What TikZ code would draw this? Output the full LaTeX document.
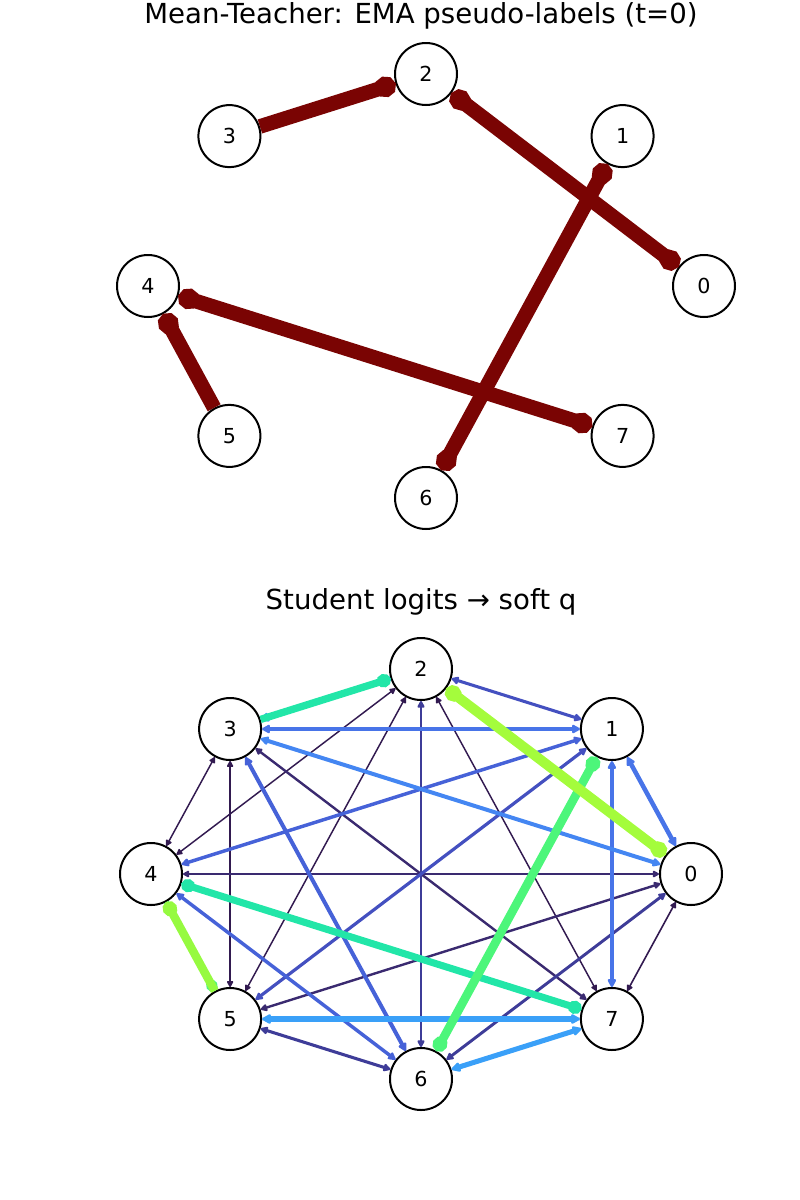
\documentclass[tikz,border=0pt]{standalone}
\usepackage{fontspec}
\setmainfont{DejaVu Sans}
\usetikzlibrary{arrows.meta}

\definecolor{emared}{RGB}{122,4,3}
\definecolor{qpurple}{RGB}{50,26,80}
\definecolor{qdeep}{RGB}{58,42,112}
\definecolor{qindigo}{RGB}{62,60,152}
\definecolor{qslate}{RGB}{68,80,192}
\definecolor{qblue}{RGB}{70,98,216}
\definecolor{qroyal}{RGB}{72,116,232}
\definecolor{qsky}{RGB}{68,134,242}
\definecolor{qazure}{RGB}{58,160,248}
\definecolor{qteal}{RGB}{34,230,168}
\definecolor{qgreen}{RGB}{76,246,122}
\definecolor{qlime}{RGB}{164,252,60}
\definecolor{qchart}{RGB}{150,250,64}

\tikzset{
  vertex/.style={circle, draw, line width=1.5pt, fill=white, minimum size=46.5pt, inner sep=0pt, font=\fontsize{15.5}{18}\selectfont},
  head/.tip={Triangle[round, length=4pt 1, width=4pt 1, line width=0pt 1]},
  dot/.tip={Circle[length=5pt 1, width=4.5pt 1]},
  pseudo/.style={draw=emared, line width=11pt},
  qedge/.style 2 args={draw={#1}, line width=#2, -head},
  qpair/.style 2 args={draw={#1}, line width=#2, head-head},
  qbold/.style 2 args={draw={#1}, line width=#2, -dot},
  qboldpair/.style 2 args={draw={#1}, line width=#2, dot-dot},
  caption/.style={anchor=base, font=\fontsize{20.7}{25}\selectfont},
}

\begin{document}
\begin{tikzpicture}[x=0.75pt,y=0.75pt,yscale=-1,xscale=1]
\useasboundingbox (0,0) rectangle (800,1200);

% Text Node
\node [caption] (ttl) at (421,23.3) {Mean-Teacher: EMA pseudo-labels (t=0)};
% Text Node
\node [caption] (stl) at (421,609) {Student logits → soft q};

%Teacher nodes
\node [vertex] (t0) at (704,286) {0};
\node [vertex] (t1) at (622.6,136.1) {1};
\node [vertex] (t2) at (426,74) {2};
\node [vertex] (t3) at (229.4,136.1) {3};
\node [vertex] (t4) at (148,286) {4};
\node [vertex] (t5) at (229.4,435.9) {5};
\node [vertex] (t6) at (426,498) {6};
\node [vertex] (t7) at (622.6,435.9) {7};

%Pseudo-label edges
\draw [pseudo, -dot] (t3) -- (t2);
\draw [pseudo, -dot] (t5) -- (t4);
\draw [pseudo, dot-dot] (t2) -- (t0);
\draw [pseudo, dot-dot] (t1) -- (t6);
\draw [pseudo, dot-dot] (t4) -- (t7);

%Student nodes
\node [vertex] (s0) at (691,874) {0};
\node [vertex] (s1) at (611.9,729) {1};
\node [vertex] (s2) at (421,669) {2};
\node [vertex] (s3) at (230.1,729) {3};
\node [vertex] (s4) at (151,874) {4};
\node [vertex] (s5) at (230.1,1019) {5};
\node [vertex] (s6) at (421,1079) {6};
\node [vertex] (s7) at (611.9,1019) {7};

%Soft q edges, weakest first
\draw [qpair={qpurple}{1.1pt}] (s2) -- (s4);
\draw [qpair={qpurple}{1.1pt}] (s2) -- (s5);
\draw [qpair={qpurple}{1.1pt}] (s2) -- (s7);
\draw [qpair={qpurple}{1.1pt}] (s3) -- (s4);
\draw [qpair={qpurple}{1.2pt}] (s3) -- (s5);
\draw [qpair={qpurple}{1.2pt}] (s0) -- (s7);
\draw [qpair={qdeep}{1.5pt}] (s0) -- (s4);
\draw [qpair={qdeep}{1.8pt}] (s0) -- (s5);
\draw [qpair={qdeep}{1.8pt}] (s3) -- (s7);
\draw [qpair={qindigo}{1.9pt}] (s2) -- (s6);
\draw [qpair={qindigo}{2.2pt}] (s0) -- (s6);
\draw [qpair={qindigo}{2.3pt}] (s5) -- (s6);
\draw [qpair={qslate}{2.3pt}] (s1) -- (s2);
\draw [qpair={qslate}{2.4pt}] (s1) -- (s5);
\draw [qpair={qblue}{2.6pt}] (s1) -- (s4);
\draw [qpair={qblue}{2.6pt}] (s4) -- (s6);
\draw [qpair={qblue}{3pt}] (s3) -- (s6);
\draw [qpair={qroyal}{3pt}] (s1) -- (s3);
\draw [qpair={qroyal}{3pt}] (s1) -- (s7);
\draw [qpair={qsky}{3pt}] (s0) -- (s3);
\draw [qpair={qroyal}{3.4pt}] (s0) -- (s1);
\draw [qpair={qazure}{3.8pt}] (s5) -- (s7);
\draw [qpair={qazure}{3.8pt}] (s6) -- (s7);
\draw [qedge={qazure}{3.5pt}] (s2) -- (s3);
\draw [qbold={qteal}{5.5pt}] (s3) -- (s2);
\draw [qboldpair={qteal}{5.3pt}] (s4) -- (s7);
\draw [qbold={qgreen}{4pt}] (s4) -- (s5);
\draw [qbold={qchart}{6.3pt}] (s5) -- (s4);
\draw [qboldpair={qgreen}{6.5pt}] (s1) -- (s6);
\draw [qboldpair={qlime}{7.5pt}] (s0) -- (s2);

\end{tikzpicture}
\end{document}
